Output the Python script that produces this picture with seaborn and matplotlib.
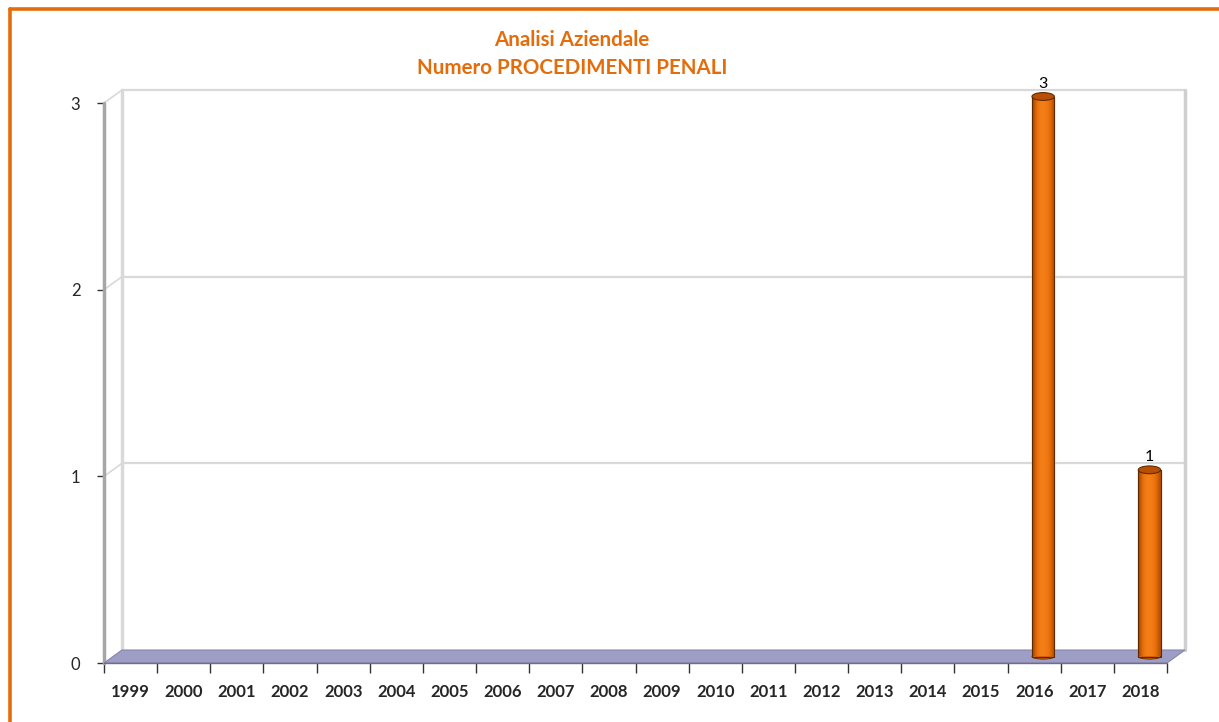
import numpy as np
import matplotlib
matplotlib.use('Agg')
import matplotlib.pyplot as plt
import seaborn as sns
from matplotlib.patches import Polygon, Ellipse, Rectangle
from matplotlib.lines import Line2D

# Data
years = [str(y) for y in range(1999, 2019)]
values = [0, 0, 0, 0, 0, 0, 0, 0, 0, 0, 0, 0, 0, 0, 0, 0, 0, 3, 0, 1]
y_ticks = [0, 1, 2, 3]
title_lines = ['Analisi Aziendale', 'Numero PROCEDIMENTI PENALI']

orange = '#E46C0A'
bar_color = '#EE7308'
floor_color = '#9D9DC6'

sns.set_style('white')
plt.rcParams['font.family'] = ['Lato', 'DejaVu Sans']

W, H = 1219, 722
fig = plt.figure(figsize=(W / 100, H / 100), dpi=100)

# front plane of the pseudo-3D chart, in pixels
left, right, bottom, top = 104, 1167, 663, 103
ax = fig.add_axes([left / W, (H - bottom) / H, (right - left) / W, (bottom - top) / H])
ax.set_xlim(-0.5, len(years) - 0.5)
ax.set_ylim(0, 3)

# depth offset (pixels -> data units)
ddx = 18 / ((right - left) / len(years))
ddy = 13 / ((bottom - top) / 3)

sns.barplot(x=years, y=values, color=bar_color, width=0.42, ax=ax,
            edgecolor='#5e2a00', linewidth=0.8, saturation=1)

# shift the bars half way into the depth and shade them like cylinders
grad = np.array([[0.2, 0.55, 0.8, 0.95, 1.0, 0.9, 0.75, 0.55, 0.25]])
cmap = matplotlib.colors.LinearSegmentedColormap.from_list(
    'cyl', ['#6e2e00', '#c85805', '#ea6f08', '#f4801a'])
for p, v in zip(ax.patches, values):
    p.set_x(p.get_x() + ddx / 2)
    p.set_y(p.get_y() + ddy / 2)
    p.set_clip_on(False)
    if v == 0:
        p.set_visible(False)
        continue
    x0, w = p.get_x(), p.get_width()
    y0, h = p.get_y(), p.get_height()
    im = ax.imshow(grad, cmap=cmap, vmin=0, vmax=1, aspect='auto',
                   extent=[x0, x0 + w, y0, y0 + h], zorder=3, interpolation='bicubic')
    im.set_clip_path(p)
    ax.add_patch(Rectangle((x0, y0), w, h, fill=False, edgecolor='#5e2a00', lw=0.8,
                           zorder=4, clip_on=False))
    ax.add_patch(Ellipse((x0 + w / 2, y0 + h), w, ddy * 0.6, facecolor='#b84f04',
                         edgecolor='#5e2a00', lw=0.8, zorder=5, clip_on=False))
    ax.add_patch(Ellipse((x0 + w / 2, y0), w, ddy * 0.4, facecolor='#d8620a',
                         edgecolor='#5e2a00', lw=0.6, zorder=2.5, clip_on=False))
    ax.text(x0 + w / 2, y0 + h + ddy * 0.45, str(v), ha='center', va='bottom',
            fontsize=11.5, color='black', zorder=6)
ax.set_xlim(-0.5, len(years) - 0.5)
ax.set_ylim(0, 3)

x_lo, x_hi = -0.5, len(years) - 0.5
wall = '#d9d9d9'
# back wall gridlines and left-side diagonals
for t in y_ticks[1:]:
    ax.plot([x_lo + ddx, x_hi + ddx], [t + ddy, t + ddy], color=wall, lw=1.6, zorder=1, clip_on=False)
    ax.plot([x_lo, x_lo + ddx], [t, t + ddy], color=wall, lw=1.2, zorder=1, clip_on=False)
# back wall vertical edges
ax.plot([x_lo + ddx, x_lo + ddx], [ddy, 3 + ddy], color=wall, lw=2.5, zorder=1, clip_on=False)
ax.plot([x_hi + ddx, x_hi + ddx], [ddy, 3 + ddy], color='#cfcfcf', lw=2.5, zorder=1, clip_on=False)
# left axis wall
ax.plot([x_lo, x_lo], [0, 3], color='#a6a6a6', lw=2.5, zorder=1, clip_on=False)

# floor
floor = Polygon([[x_lo, 0], [x_hi, 0], [x_hi + ddx, ddy], [x_lo + ddx, ddy]],
                closed=True, facecolor=floor_color, edgecolor='#8585ad', lw=0.8,
                zorder=2, clip_on=False)
ax.add_patch(floor)
ax.plot([x_lo, x_hi], [0, 0], color='#6e6e8a', lw=1.0, zorder=2.2, clip_on=False)

# ticks and labels
for s in ax.spines.values():
    s.set_visible(False)
ax.set_yticks(y_ticks)
ax.set_yticklabels([str(t) for t in y_ticks], fontsize=12)
ax.tick_params(axis='y', length=5, width=1, color='#333333', pad=12, left=True)
ax.set_xticks(range(len(years)))
ax.set_xticklabels(years, fontsize=12, fontweight='bold')
ax.set_xticks(np.arange(len(years) + 1) - 0.5, minor=True)
ax.tick_params(axis='x', which='major', length=0, pad=15)
ax.tick_params(axis='x', which='minor', length=7, width=1, color='#333333', bottom=True)
ax.set_xlabel('')
ax.set_ylabel('')
ax.grid(False)

# title
fig.text(572 / W, 1 - 40 / H, title_lines[0], ha='center', va='center',
         fontsize=14.8, fontweight='bold', color=orange)
fig.text(572 / W, 1 - 68 / H, title_lines[1], ha='center', va='center',
         fontsize=14.8, fontweight='bold', color=orange)

# orange frame (top and left edges visible)
fig.add_artist(Line2D([9.5 / W, 1.0], [1 - 8.5 / H, 1 - 8.5 / H], transform=fig.transFigure,
                      color=orange, lw=2.6))
fig.add_artist(Line2D([9.5 / W, 9.5 / W], [0, 1 - 8.5 / H], transform=fig.transFigure,
                      color=orange, lw=2.6))

fig.savefig('out.png', dpi=100)
